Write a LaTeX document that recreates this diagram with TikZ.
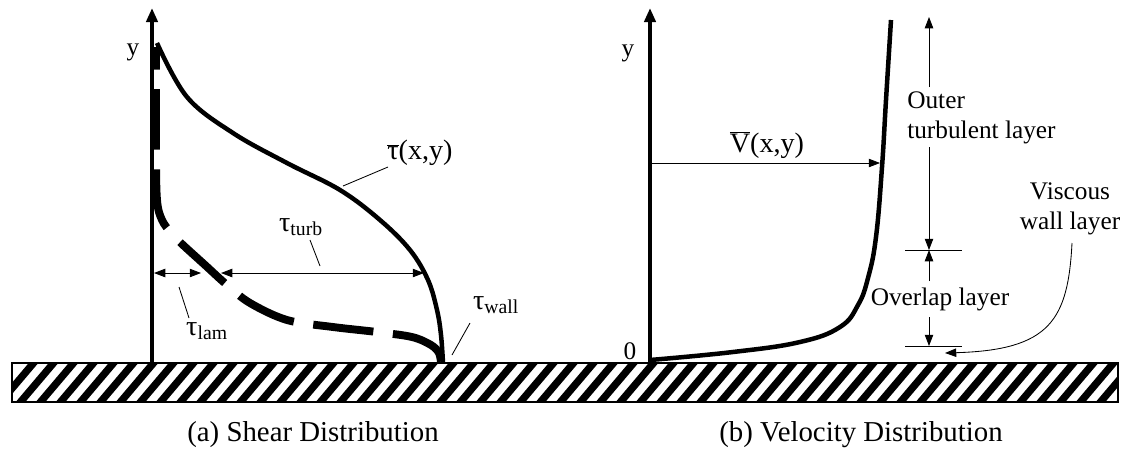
\documentclass[tikz,border=0pt]{standalone}
\usepackage{fontspec}
\setmainfont{Liberation Serif}
\usetikzlibrary{arrows.meta}
\tikzset{
  axis/.style={line width=3.2pt, -{Triangle[length=10pt,width=8pt]}},
  profile/.style={line width=3.2pt},
  leader/.style={line width=0.6pt},
  dimarrow/.style={line width=0.6pt, -{Triangle[length=8pt,width=6pt]}},
  dimboth/.style={line width=0.6pt, {Triangle[length=8pt,width=6pt]}-{Triangle[length=8pt,width=6pt]}},
  lbl/.style={font=\fontsize{18}{21}\selectfont, inner sep=0pt},
  caption/.style={font=\fontsize{20.5}{24}\selectfont, inner sep=0pt}
}
\begin{document}
\begin{tikzpicture}[x=0.025cm, y=-0.025cm]
  \useasboundingbox (0,0) rectangle (1123,450);

  \begin{scope}
    \clip (12,363) rectangle (1118,402);
    \foreach \x in {0,20,...,1120}
      \draw[line width=5.2pt] (\x-8,412) -- (\x+42,353);
  \end{scope}
  \draw[line width=0.8pt] (12,363) rectangle (1118,402);

  \coordinate (oA) at (152,363);
  \coordinate (topA) at (152,8);
  \draw[axis] (oA) -- (topA);
  \node[lbl] (ylabA) at (133,52) {y};

  \draw[profile] plot[smooth, tension=0.6] coordinates {(157,43) (187,97) (233,133) (287,163) (340,190) (380,220) (410,250) (428,280) (437,310) (441,335) (443,363)};
  \draw[line width=5.6pt, dash pattern=on 43pt off 14pt, dash phase=27pt] plot[smooth, tension=0.55] coordinates {(156,47) (156,150) (157,200) (162,220) (172,234) (183,245) (205,265) (227,285) (250,303) (287,320) (333,327) (377,332) (412,337) (431,345) (439,353) (441,363)};

  \coordinate (lamL) at (154,273);
  \coordinate (lamR) at (201,273);
  \coordinate (turbL) at (221,273);
  \coordinate (turbR) at (424,273);
  \draw[dimboth] (lamL) -- (lamR);
  \draw[dimboth] (turbL) -- (turbR);

  \node[lbl, font=\fontsize{20}{22}\selectfont] (tauxy) at (420,153) {$\overline{\hbox{τ}}$(x,y)};
  \draw[leader] (388,167) -- (343,186);
  \node[lbl, font=\fontsize{20}{22}\selectfont] (turb) at (301,227) {τ\textsubscript{turb}};
  \draw[leader] (310,240) -- (320,266);
  \node[lbl, font=\fontsize{20}{22}\selectfont] (lam) at (207,331) {τ\textsubscript{lam}};
  \draw[leader] (179,287) -- (189,318);
  \node[lbl, font=\fontsize{20}{22}\selectfont] (wall) at (496,305) {τ\textsubscript{wall}};
  \draw[leader] (470,323) -- (452,355);

  \coordinate (oB) at (650,363);
  \coordinate (topB) at (650,8);
  \draw[axis] (oB) -- (topB);
  \node[lbl] (ylabB) at (628,53) {y};
  \node[lbl] (zero) at (630,351) {0};

  \draw[profile] plot[smooth, tension=0.7] coordinates {(650,360) (733,352) (800,342) (840,327) (858,305) (868,278) (876,237) (882,167) (886,100) (891,20)};

  \coordinate (vstart) at (652,163);
  \coordinate (vend) at (880,163);
  \draw[dimarrow, line width=0.5pt] (vstart) -- (vend);
  \node[lbl, font=\fontsize{20}{22}\selectfont] (vxy) at (767,145) {$\overline{\hbox{V}}$(x,y)};

  \coordinate (outerlo) at (929,87);
  \coordinate (outertop) at (929,17);
  \coordinate (outerhi) at (929,147);
  \coordinate (mid) at (929,250);
  \coordinate (overhi) at (929,281);
  \coordinate (overlo) at (929,317);
  \coordinate (wallB) at (929,346);
  \draw[dimarrow] (outerlo) -- (outertop);
  \draw[dimarrow] (outerhi) -- (mid);
  \draw[dimarrow] (overhi) -- (mid);
  \draw[dimarrow] (overlo) -- (wallB);
  \draw[leader] (905,250) -- (962,250);
  \draw[leader] (905,346) -- (962,346);

  \node[lbl, anchor=west, align=left] (outer) at (907,118) {Outer\\turbulent layer};
  \node[lbl] (overlap) at (940,299) {Overlap layer};
  \node[lbl, align=center] (viscous) at (1070,209) {Viscous\\wall layer};
  \coordinate (viscfoot) at (1072,243);
  \coordinate (visctip) at (945,353);
  \draw[dimarrow] (viscfoot) .. controls (1068,320) and (1050,350) .. (visctip);

  \node[caption] (capA) at (313,435) {(a) Shear Distribution};
  \node[caption] (capB) at (861,435) {(b) Velocity Distribution};
\end{tikzpicture}
\end{document}
